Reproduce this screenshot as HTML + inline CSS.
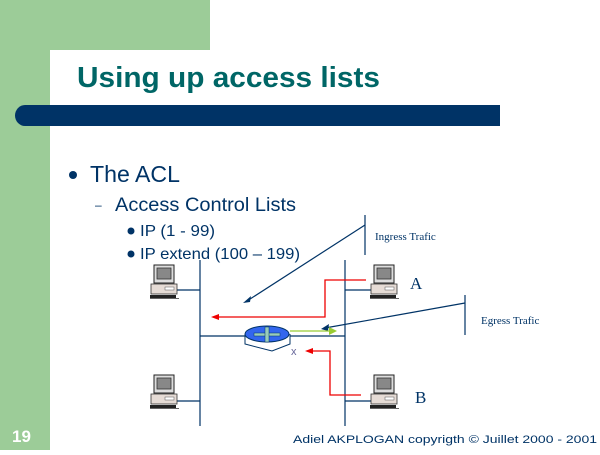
<!DOCTYPE html>
<html><head><meta charset="utf-8"><style>
body{margin:0;width:600px;height:450px;overflow:hidden;background:#fff;font-family:"Liberation Sans",sans-serif}
</style></head><body>
<svg width="600" height="450" viewBox="0 0 600 450" xmlns="http://www.w3.org/2000/svg">
<defs>
<g id="pc">
<rect x="3" y="0" width="20" height="18" fill="#ddd" stroke="#222" stroke-width="1"/>
<rect x="6" y="3" width="14" height="11" fill="#888" stroke="#333" stroke-width="0.8"/>
<rect x="0" y="19" width="26" height="10" fill="#e6dcd6" stroke="#333" stroke-width="0.8"/>
<rect x="14" y="22" width="9" height="3" fill="#fff" stroke="#555" stroke-width="0.5"/>
<rect x="-1" y="30" width="26" height="3" fill="#222"/>
<rect x="-1" y="33" width="29" height="1" fill="#666"/>
</g>
</defs>
<rect x="0" y="0" width="210" height="50" fill="#9ccc98"/>
<rect x="0" y="0" width="50" height="450" fill="#9ccc98"/>
<path d="M50 62 Q50 50 62 50 L210 50 L210 62 Z" fill="#fff"/>
<text x="77" y="87" font-size="29" font-weight="bold" fill="#006666" textLength="303" lengthAdjust="spacingAndGlyphs">Using up access lists</text>
<path d="M25 105 L500 105 L500 126 L25 126 A10 10.5 0 0 1 25 105 Z" fill="#003366"/>
<circle cx="73" cy="175" r="4" fill="#003366"/>
<text x="90" y="182" font-size="23" fill="#003366" textLength="90" lengthAdjust="spacingAndGlyphs">The ACL</text>
<text x="95" y="209" font-size="12" fill="#003366">–</text>
<text x="115" y="211" font-size="19" fill="#003366" textLength="181" lengthAdjust="spacingAndGlyphs">Access Control Lists</text>
<circle cx="131" cy="231" r="3.5" fill="#003366"/>
<text x="140" y="236" font-size="16" fill="#003366" textLength="75" lengthAdjust="spacingAndGlyphs">IP (1 - 99)</text>
<circle cx="131" cy="254" r="3.5" fill="#003366"/>
<text x="140" y="259" font-size="16" fill="#003366" textLength="160" lengthAdjust="spacingAndGlyphs">IP extend (100 – 199)</text>

<g stroke="#003366" stroke-width="1.2" fill="none">
<line x1="200" y1="260" x2="200" y2="426"/>
<line x1="345" y1="260" x2="345" y2="426"/>
<line x1="200" y1="336" x2="345" y2="336"/>
<line x1="170" y1="290" x2="200" y2="290"/>
<line x1="170" y1="401" x2="200" y2="401"/>
<line x1="345" y1="290" x2="375" y2="290"/>
<line x1="345" y1="401" x2="375" y2="401"/>
<line x1="365" y1="215" x2="365" y2="255"/>
<line x1="365" y1="225" x2="247" y2="301"/>
<line x1="465" y1="295" x2="465" y2="335"/>
<line x1="465" y1="303" x2="325" y2="328"/>
</g>
<polygon points="243,303 251,296 250,302" fill="#003366"/>
<polygon points="321,329 329,324 328,331" fill="#003366"/>
<text x="375" y="240" font-family="Liberation Serif" font-size="11" fill="#003366">Ingress Trafic</text>
<text x="481" y="324" font-family="Liberation Serif" font-size="11" fill="#003366">Egress Trafic</text>
<text x="410" y="289" font-family="Liberation Serif" font-size="17" fill="#003366">A</text>
<text x="415" y="403" font-family="Liberation Serif" font-size="17" fill="#003366">B</text>

<use href="#pc" x="151" y="265"/>
<use href="#pc" x="151" y="375"/>
<use href="#pc" x="371" y="265"/>
<use href="#pc" x="371" y="375"/>

<path d="M245 334 L245 344 L272 351 L290 344 L290 334" fill="#fff" stroke="#003366" stroke-width="1"/>
<ellipse cx="267" cy="334" rx="22" ry="8" fill="#3366ee" stroke="#003366" stroke-width="1"/>
<rect x="254" y="333" width="26" height="3" fill="#99ccbb" stroke="#003366" stroke-width="0.5"/>
<rect x="265" y="327" width="4" height="15" fill="#99ccbb" stroke="#003366" stroke-width="0.5"/>
<line x1="290" y1="331" x2="332" y2="331" stroke="#99cc33" stroke-width="1.2"/>
<polygon points="337,331 329,327 329,335" fill="#99cc33"/>

<g stroke="#ee0000" stroke-width="1.3" fill="none">
<polyline points="366,280 325,280 325,317 216,317"/>
<polyline points="361,395 330,395 330,351 310,351"/>
</g>
<polygon points="211,317 219,314 219,320" fill="#ee0000"/>
<polygon points="305,351 313,348 313,354" fill="#ee0000"/>
<text x="291" y="355" font-size="11" fill="#666699">x</text>

<text x="12" y="442" font-size="17" font-weight="bold" fill="#fff">19</text>
<text x="293" y="443" font-size="11" fill="#003366" textLength="304" lengthAdjust="spacingAndGlyphs">Adiel AKPLOGAN copyrigth © Juillet 2000 - 2001</text>
</svg>
</body></html>
